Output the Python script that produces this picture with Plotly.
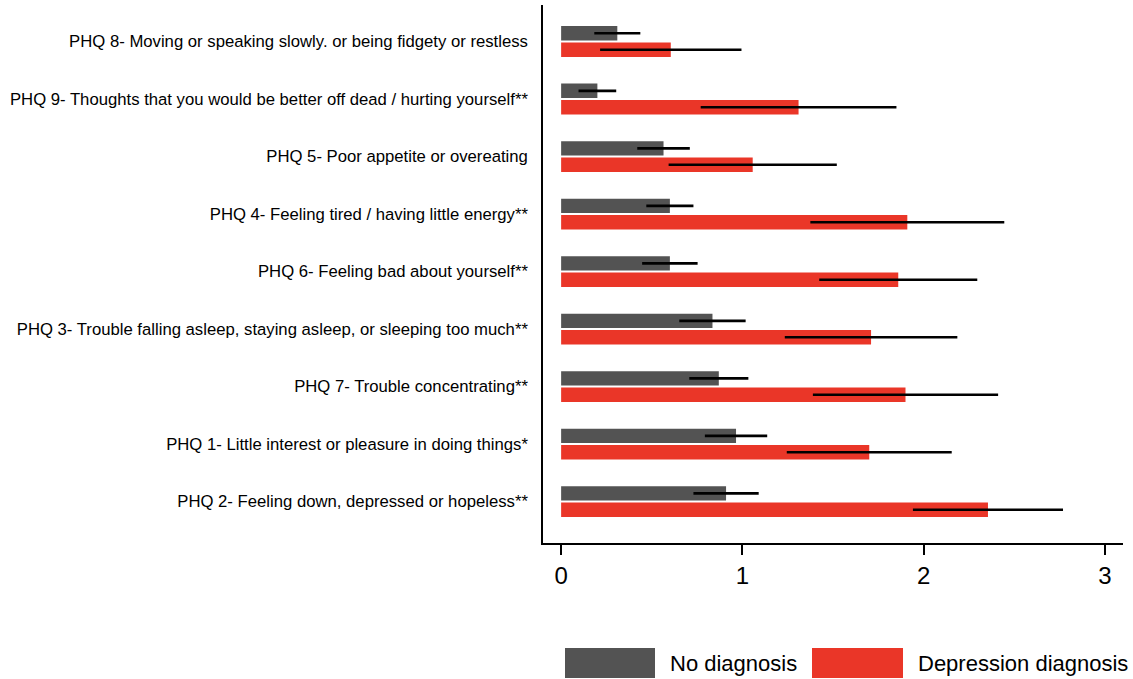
import plotly.graph_objects as go

# PHQ items, listed top to bottom
items = [
    "PHQ 8- Moving or speaking slowly. or being fidgety or restless",
    "PHQ 9- Thoughts that you would be better off dead / hurting yourself**",
    "PHQ 5- Poor appetite or overeating",
    "PHQ 4- Feeling tired / having little energy**",
    "PHQ 6- Feeling bad about yourself**",
    "PHQ 3- Trouble falling asleep, staying asleep, or sleeping too much**",
    "PHQ 7- Trouble concentrating**",
    "PHQ 1- Little interest or pleasure in doing things*",
    "PHQ 2- Feeling down, depressed or hopeless**",
]

# Mean item scores and 95% CI half-widths
no_dx_mean = [0.31, 0.20, 0.565, 0.60, 0.60, 0.835, 0.87, 0.965, 0.91]
no_dx_err = [0.127, 0.104, 0.145, 0.13, 0.153, 0.183, 0.163, 0.172, 0.18]
dep_mean = [0.605, 1.31, 1.057, 1.91, 1.86, 1.71, 1.90, 1.70, 2.355]
dep_err = [0.39, 0.54, 0.464, 0.535, 0.436, 0.476, 0.511, 0.455, 0.414]

x_ticks = [0, 1, 2, 3]

GREY = "#535353"
RED = "#EA3628"
FONT = "Liberation Sans, Arial, Helvetica, sans-serif"

W, H = 1133, 679
L, R, T, B = 543, 10, 5, 136

fig = go.Figure()

# red trace first so that the grey bar sits on top within each group
fig.add_trace(go.Bar(
    y=items, x=dep_mean, orientation="h", name="Depression diagnosis",
    marker=dict(color=RED, line=dict(width=0)),
    error_x=dict(type="data", array=dep_err, visible=True,
                 color="black", thickness=2.6, width=0),
))
fig.add_trace(go.Bar(
    y=items, x=no_dx_mean, orientation="h", name="No diagnosis",
    marker=dict(color=GREY, line=dict(width=0)),
    error_x=dict(type="data", array=no_dx_err, visible=True,
                 color="black", thickness=2.6, width=0),
))

n = len(items)
fig.update_layout(
    width=W, height=H,
    margin=dict(l=L, r=R, t=T, b=B, pad=0),
    paper_bgcolor="white", plot_bgcolor="white",
    barmode="group", bargap=0.43, bargroupgap=0.12,
    showlegend=False,
    font=dict(family=FONT, color="black"),
)
fig.update_xaxes(
    range=[-0.1, 3.1], tickvals=x_ticks, ticktext=[str(t) for t in x_ticks],
    showgrid=False, zeroline=False,
    showline=True, linecolor="black", linewidth=1.5,
    ticks="outside", ticklen=10, tickwidth=1.5, tickcolor="black",
    tickfont=dict(size=24, family=FONT),
)
fig.update_yaxes(
    categoryorder="array", categoryarray=items[::-1],
    range=[-0.72, n - 1 + 0.635],
    showgrid=False, zeroline=False,
    showline=True, linecolor="black", linewidth=1.5,
    ticks="", ticklabelstandoff=10,
    tickfont=dict(size=16.7, family=FONT),
)


def px_x(p):
    return (p - L) / (W - L - R)


def px_y(p):
    return (H - B - p) / (H - T - B)


# legend drawn as swatches plus labels below the plot
legend = [("No diagnosis", GREY, 565, 655, 668), ("Depression diagnosis", RED, 812, 903, 916)]
for label, color, x0, x1, tx in legend:
    fig.add_shape(type="rect", xref="paper", yref="paper",
                  x0=px_x(x0), x1=px_x(x1), y0=px_y(678), y1=px_y(648),
                  fillcolor=color, line=dict(width=0))
    fig.add_annotation(xref="paper", yref="paper", x=px_x(tx), y=px_y(663),
                       text=label, showarrow=False, xanchor="left", yanchor="middle",
                       font=dict(size=22, family=FONT, color="black"))

fig.write_html("out.html")
